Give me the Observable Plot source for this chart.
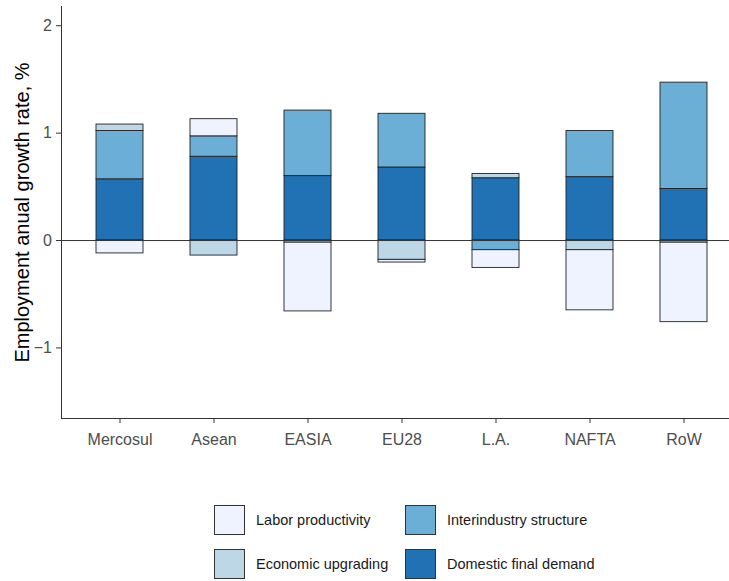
<!DOCTYPE html>
<html>
<head>
<meta charset="utf-8">
<script src="https://cdn.jsdelivr.net/npm/d3@7"></script>
<script src="https://cdn.jsdelivr.net/npm/@observablehq/plot@0.6"></script>
<style>
  html, body { margin: 0; padding: 0; background: #ffffff; }
  #wrap { position: relative; width: 729px; height: 581px; font-family: "Liberation Sans", Arial, sans-serif; }
  #legend {
    position: absolute; left: 214px; top: 505px;
    display: grid; grid-template-columns: 191px auto; grid-template-rows: 30px 30px;
    grid-auto-flow: column; row-gap: 14px;
  }
  .item { display: flex; align-items: center; }
  .swatch { width: 31px; height: 30px; box-sizing: border-box; border: 1px solid #333333; }
  .label { font-size: 14.5px; color: #1a1a1a; margin-left: 11px; white-space: nowrap; }
</style>
</head>
<body>
<div id="wrap">
  <div id="chart"></div>
  <div id="legend"></div>
</div>
<script>
// Regions on the x axis
const regions = ["Mercosul", "Asean", "EASIA", "EU28", "L.A.", "NAFTA", "RoW"];

// Decomposition components, in stacking order (first sits next to zero)
const seriesNames = ["Domestic final demand", "Interindustry structure", "Economic upgrading", "Labor productivity"];
const seriesColors = ["#2171b5", "#6baed6", "#bdd7e7", "#eff3ff"];

// Contribution of each component to employment growth (% per year)
const domesticFinalDemand    = [0.57, 0.78, 0.60, 0.68, 0.58, 0.59, 0.48];
const interindustryStructure = [0.45, 0.19, 0.61, 0.50, -0.09, 0.43, 0.99];
const economicUpgrading      = [0.06, -0.14, -0.02, -0.18, 0.04, -0.09, -0.02];
const laborProductivity      = [-0.12, 0.16, -0.64, -0.025, -0.165, -0.56, -0.74];

const yTicks = [-1, 0, 1, 2];
const yTitle = "Employment anual growth rate, %";

const seriesValues = [domesticFinalDemand, interindustryStructure, economicUpgrading, laborProductivity];
const rows = [];
seriesNames.forEach((s, j) => {
  regions.forEach((r, i) => rows.push({region: r, series: s, value: seriesValues[j][i]}));
});

const chart = Plot.plot({
  width: 729,
  height: 460,
  marginLeft: 61,
  marginRight: 0,
  marginTop: 6,
  marginBottom: 42,
  style: {fontFamily: "'Liberation Sans', Arial, sans-serif", background: "#ffffff"},
  x: {domain: regions, range: [61, 741.4], paddingInner: 0.5, paddingOuter: 0.35, align: 0.5, label: null},
  y: {domain: [-1.657, 2.179], label: null},
  color: {domain: seriesNames, range: seriesColors},
  marks: [
    Plot.barY(rows, Plot.stackY({
      x: "region", y: "value", z: "series", fill: "series",
      stroke: "#222222", strokeWidth: 0.9
    })),
    Plot.ruleY([0], {stroke: "#333333", strokeWidth: 1}),
    Plot.frame({anchor: "left", stroke: "#333333"}),
    Plot.frame({anchor: "bottom", stroke: "#333333"}),
    Plot.axisX({tickSize: 5, tickPadding: 10, fontSize: 16, stroke: "#333333", fill: "#4d4d4d", label: null}),
    Plot.axisY({ticks: yTicks, tickFormat: d3.format("d"), tickSize: 5, tickPadding: 4.5, fontSize: 16, stroke: "#333333", fill: "#4d4d4d", label: null}),
    Plot.text([yTitle], {
      frameAnchor: "left", rotate: -90, dx: -47, lineAnchor: "top", textAnchor: "middle",
      fontSize: 20, fill: "#000000"
    })
  ]
});
document.getElementById("chart").appendChild(chart);

// Legend: two columns, listed from the lightest component down
const legend = document.getElementById("legend");
seriesNames.slice().reverse().forEach((s) => {
  const item = document.createElement("div");
  item.className = "item";
  const sw = document.createElement("div");
  sw.className = "swatch";
  sw.style.background = seriesColors[seriesNames.indexOf(s)];
  const lb = document.createElement("span");
  lb.className = "label";
  lb.textContent = s;
  item.appendChild(sw);
  item.appendChild(lb);
  legend.appendChild(item);
});
</script>
</body>
</html>
